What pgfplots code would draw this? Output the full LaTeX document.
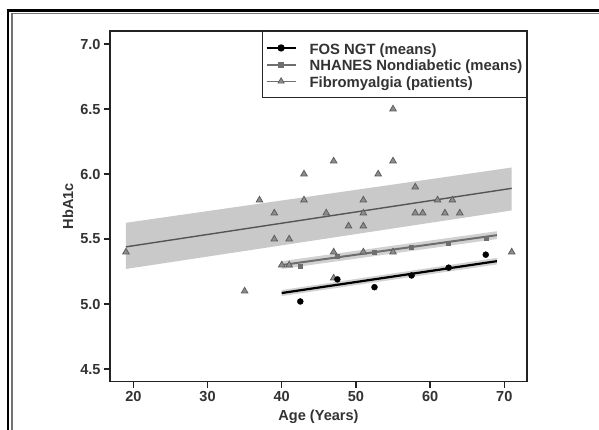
\documentclass[border=0pt]{standalone}
\usepackage{fontspec}
\setmainfont{Liberation Sans}
\usepackage{pgfplots}
\pgfplotsset{compat=1.18}
\definecolor{axisgray}{HTML}{222222}
\definecolor{textgray}{HTML}{333333}
\definecolor{bandgray}{HTML}{C9C9C9}
\definecolor{fibroline}{HTML}{555555}
\definecolor{nhanes}{HTML}{6E6E6E}
\definecolor{trifill}{HTML}{8C8C8C}
\begin{document}
\begin{tikzpicture}
\path[use as bounding box] (0bp,0bp) rectangle (599bp,430bp);
\fill[white] (0bp,0bp) rectangle (599bp,430bp);
% image frame (top and left)
\draw[black, line width=3bp] (6.5bp,419.5bp) -- (599bp,419.5bp);
\draw[black, line width=2.7bp] (8bp,0bp) -- (8bp,420.9bp);
\draw[black!55, line width=1.3bp] (12bp,0bp) -- (12bp,416.2bp) -- (599bp,416.2bp);
\begin{axis}[
  scale only axis, width=417bp, height=350.7bp,
  at={(110bp,48.3bp)}, anchor=south west,
  xmin=16.85, xmax=73.06, ymin=4.403, ymax=7.1,
  xtick={20,30,40,50,60,70}, ytick={4.5,5,5.5,6,6.5,7},
  tick align=outside, major tick length=6bp, tick pos=left,
  axis line style={axisgray, line width=1.3bp},
  tick style={axisgray, line width=1.3bp},
  /pgf/number format/assume math mode=true,
  ticklabel style={font=\bfseries\fontsize{14.6}{17}\selectfont, text=textgray},
  yticklabel style={/pgf/number format/.cd, fixed, fixed zerofill, precision=1},
  xlabel={Age (Years)}, ylabel={HbA1c},
  label style={font=\bfseries\fontsize{14.6}{17}\selectfont, text=textgray},
  xlabel style={at={(axis description cs:0.5,-0.1007)}, anchor=center},
  ylabel style={at={(axis description cs:-0.1007,0.5)}, anchor=center},
  legend style={at={(1,1)}, anchor=north east, draw=black!85, line width=1.2bp,
    fill=white, font=\bfseries\fontsize{14.9}{16}\selectfont, text=textgray,
    inner xsep=3bp, inner ysep=8bp, row sep=0bp, column sep=12bp,
    nodes={inner sep=1bp, text height=13.5bp, text depth=1.2bp}},
  legend cell align=left,
  legend image code/.code={\draw[mark repeat=2,mark phase=2,#1] plot coordinates {(0bp,0bp) (14.5bp,0bp) (29bp,0bp)};},
]
\addlegendimage{black, line width=2bp, mark=*, mark size=2.6bp, mark options={fill=black}}
\addlegendimage{nhanes, line width=2bp, mark=square*, mark size=2bp, mark options={fill=nhanes}}
\addlegendimage{trifill!80!black, line width=1.4bp, mark=triangle*, mark size=3.6bp, mark options={fill=trifill, draw=black!65, line width=0.7bp}}
\legend{FOS NGT (means), NHANES Nondiabetic (means), Fibromyalgia (patients)}

% confidence bands
\addplot[fill=bandgray, draw=none, forget plot] coordinates {(19,5.27) (71,5.72) (71,6.05) (19,5.625)} -- cycle;
\addplot[fill=black!18, draw=none, forget plot] coordinates {(40,5.27) (69,5.50) (69,5.56) (40,5.33)} -- cycle;
\addplot[fill=black!18, draw=none, forget plot] coordinates {(40,5.062) (69,5.305) (69,5.355) (40,5.108)} -- cycle;

% regression lines
\addplot[fibroline, line width=1.4bp, forget plot] coordinates {(19,5.44) (71,5.89)};
\addplot[nhanes, line width=2bp, forget plot] coordinates {(40,5.30) (69,5.53)};
\addplot[black, line width=2.2bp, forget plot] coordinates {(40,5.085) (69,5.33)};

% NHANES means
\addplot[only marks, mark=square*, mark size=2bp, color=nhanes, mark options={fill=nhanes}, forget plot] coordinates {
(42.5,5.29) (47.5,5.37) (52.5,5.40) (57.5,5.44) (62.5,5.47) (67.5,5.51)};

% Fibromyalgia patients
\addplot[only marks, mark=triangle*, mark size=3.8bp, mark options={fill=trifill, draw=black!65, line width=0.7bp}, forget plot] coordinates {
(19,5.4) (35,5.1) (37,5.8) (39,5.7) (39,5.5) (40,5.3) (41,5.5) (41,5.3)
(43,6.0) (43,5.8) (46,5.7) (47,6.1) (47,5.4) (47,5.2) (49,5.6) (51,5.8)
(51,5.7) (51,5.6) (51,5.4) (53,6.0) (55,6.5) (55,6.1) (55,5.4) (58,5.9)
(58,5.7) (59,5.7) (61,5.8) (62,5.7) (63,5.8) (64,5.7) (71,5.4)};

% FOS NGT means
\addplot[only marks, mark=*, mark size=3bp, color=black, forget plot] coordinates {
(42.5,5.02) (47.5,5.19) (52.5,5.13) (57.5,5.22) (62.5,5.28) (67.5,5.38)};
\end{axis}
\end{tikzpicture}
\end{document}
